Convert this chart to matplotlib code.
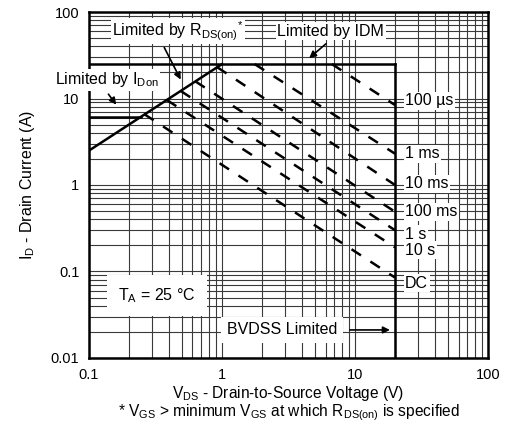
import matplotlib
matplotlib.use('Agg')
import matplotlib.pyplot as plt
from matplotlib.ticker import LogLocator, NullFormatter

plt.rcParams['font.family'] = ['Liberation Sans', 'DejaVu Sans']
plt.rcParams['mathtext.default'] = 'regular'

# --- data ---
bvdss = 20.0          # V, vertical limit
idm = 25.0            # A, pulsed drain current limit
idon = 6.1            # A, on-state current limit
rds_v = [0.1, 1.0]    # V, R_DS(on) limit line
rds_i = [2.5, 25.0]   # A

pulse_labels = ['100 µs', '1 ms', '10 ms', '100 ms', '1 s', '10 s', 'DC']
pulse_v_start = [6.7, 1.76, 0.92, 0.63, 0.49, 0.385, 0.26]
pulse_i_start = [25.0, 25.0, 23.0, 15.8, 12.2, 9.6, 6.6]
pulse_i_end = [8.4, 2.3, 1.0, 0.49, 0.30, 0.19, 0.085]
label_dy = [3, 0, 1, 0, -3, -2, -4]   # points, label nudges

fs = 11.5

fig = plt.figure(figsize=(5.1, 4.23), dpi=100)
ax = fig.add_axes([0.1745, 0.1537, 0.7824, 0.8179])
ax.set_xscale('log')
ax.set_yscale('log')
ax.set_xlim(0.1, 100)
ax.set_ylim(0.01, 100)

ax.xaxis.set_minor_locator(LogLocator(base=10, subs=range(2, 10)))
ax.yaxis.set_minor_locator(LogLocator(base=10, subs=range(2, 10)))
ax.xaxis.set_minor_formatter(NullFormatter())
ax.yaxis.set_minor_formatter(NullFormatter())
ax.grid(True, which='both', color='#3a3a3a', lw=0.8)
ax.set_axisbelow(True)
ax.tick_params(which='both', length=0, labelsize=10.5, pad=7)
ax.set_xticks([0.1, 1, 10, 100], ['0.1', '1', '10', '100'])
ax.set_yticks([0.01, 0.1, 1, 10, 100], ['0.01', '0.1', '1', '10', '100'])
for s in ax.spines.values():
    s.set_linewidth(1.8)

lw = 1.8
# boundary lines
ax.plot([0.1, bvdss], [idm, idm], color='black', lw=lw)
ax.plot([bvdss, bvdss], [0.01, idm], color='black', lw=lw)
ax.plot([0.1, idon * rds_v[0] / rds_i[0]], [idon, idon], color='black', lw=lw)
ax.plot(rds_v, rds_i, color='black', lw=lw)

# pulse lines
box = dict(facecolor='white', edgecolor='none', pad=1)
for lab, v0, i0, i1, dy in zip(pulse_labels, pulse_v_start, pulse_i_start, pulse_i_end, label_dy):
    ln, = ax.plot([v0, bvdss], [i0, i1], color='black', lw=lw)
    ln.set_dashes((4.5, 4.5))
    ax.annotate(lab, (23.8, i1), xytext=(0, dy), textcoords='offset points',
                va='center', ha='left', fontsize=fs, bbox=box)

arrow = dict(arrowstyle='-|>', color='black', lw=1.2, mutation_scale=10)
ax.text(0.149, 60, 'Limited by R$_{DS(on)}$$^{*}$', fontsize=fs, va='center', ha='left', bbox=box)
ax.annotate('', xy=(0.5, 15.5), xytext=(0.36, 41.5), arrowprops=arrow)
ax.text(2.6, 60, 'Limited by IDM', fontsize=fs, va='center', ha='left', bbox=box)
ax.annotate('', xy=(4.36, 27.9), xytext=(6.27, 45), arrowprops=arrow)
ax.text(-0.085, 16.4, 'Limited by I$_{Don}$', transform=ax.get_yaxis_transform(),
        fontsize=fs, va='center', ha='left', bbox=box)
ax.annotate('', xy=(0.165, 8.0), xytext=(0.136, 11.9), arrowprops=arrow)

ax.text(0.165, 0.053, 'T$_{A}$ = 25 °C', fontsize=fs, va='center', ha='left',
        bbox=dict(facecolor='white', edgecolor='none', pad=8))
ax.text(1.09, 0.0211, 'BVDSS Limited', fontsize=fs, va='center', ha='left',
        bbox=dict(facecolor='white', edgecolor='none', pad=4))
ax.annotate('', xy=(bvdss * 0.96, 0.0211), xytext=(8.7, 0.0211),
            arrowprops=dict(arrowstyle='-|>', color='black', lw=1.2, mutation_scale=10))

ax.set_ylabel('I$_{D}$ - Drain Current (A)', fontsize=fs, labelpad=10)
ax.set_xlabel('V$_{DS}$ - Drain-to-Source Voltage (V)\n'
              '* V$_{GS}$ > minimum V$_{GS}$ at which R$_{DS(on)}$ is specified',
              fontsize=11.2, labelpad=2, linespacing=0.95)

fig.savefig('out.png', dpi=100)
